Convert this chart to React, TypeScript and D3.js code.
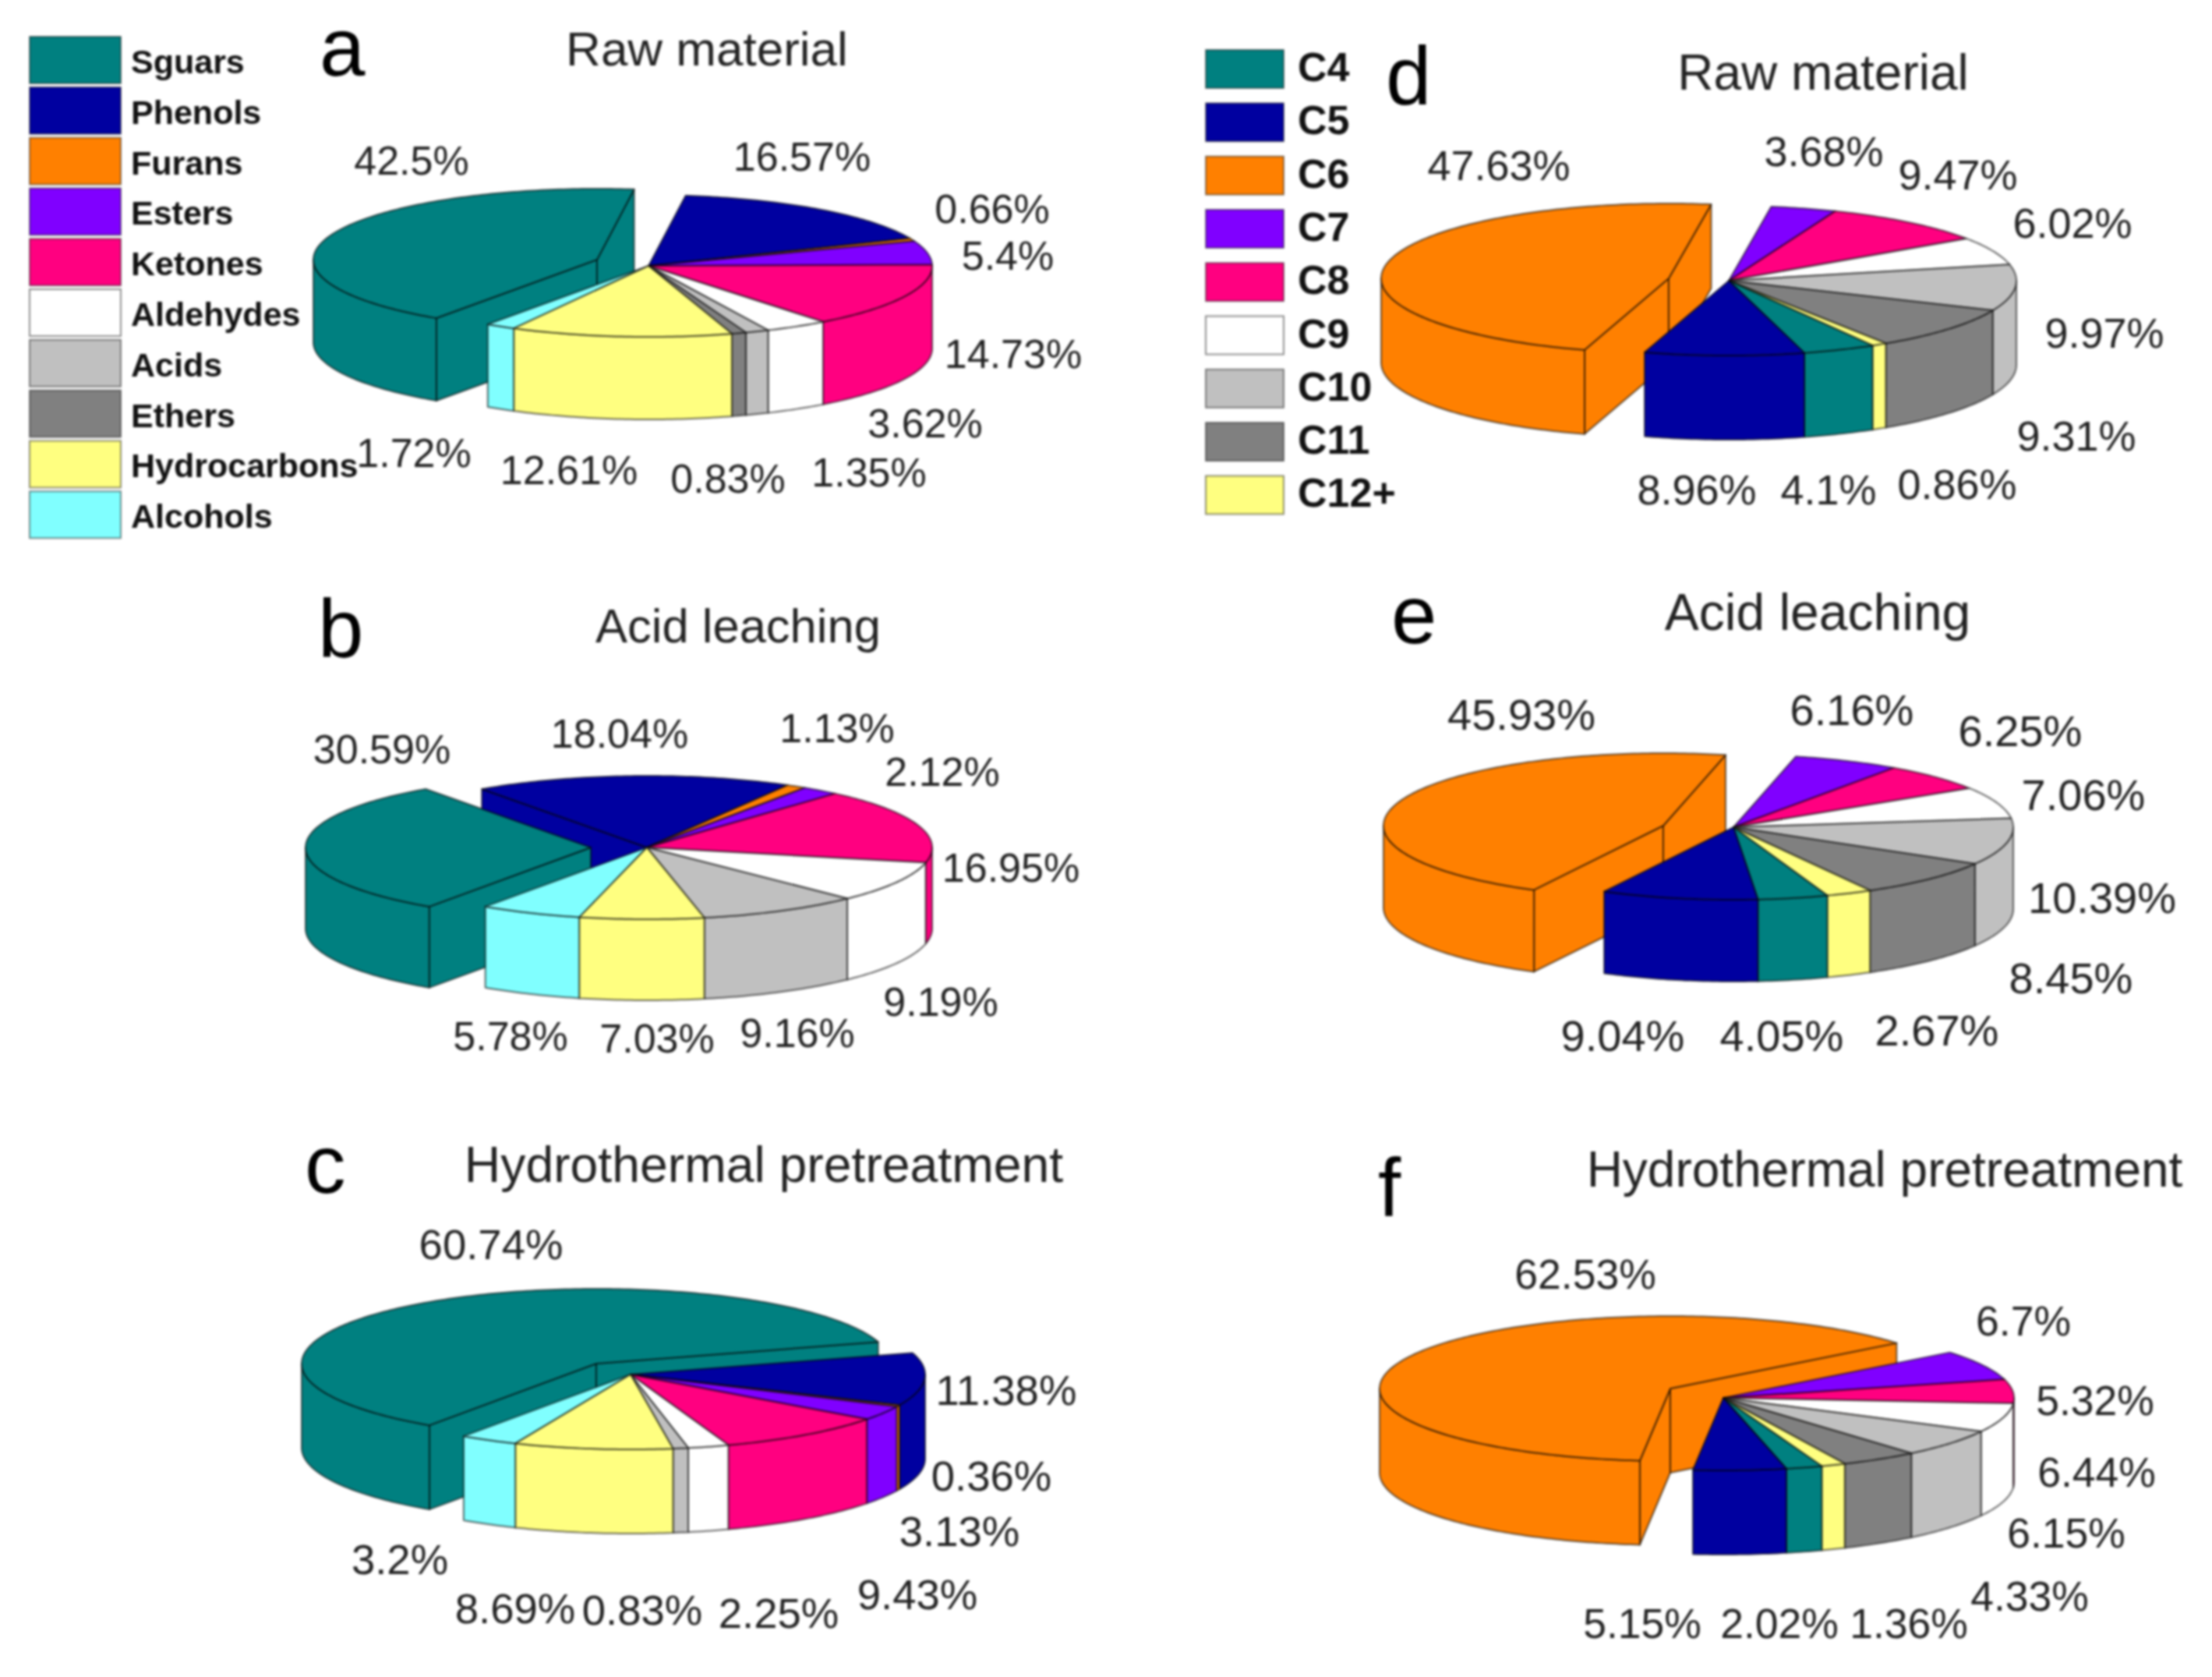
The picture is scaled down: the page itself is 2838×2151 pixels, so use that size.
import React, { useEffect, useRef } from 'react'
import * as d3 from 'd3'

const WIDTH = 2838
const HEIGHT = 2151
const FONT = '"Liberation Sans", Arial, sans-serif'

// legend categories
const compoundClasses = ['Sguars', 'Phenols', 'Furans', 'Esters', 'Ketones', 'Aldehydes', 'Acids', 'Ethers', 'Hydrocarbons', 'Alcohols']
const carbonClasses = ['C4', 'C5', 'C6', 'C7', 'C8', 'C9', 'C10', 'C11', 'C12+']
const compoundColors = ['#008080', '#0000A0', '#FF8000', '#8000FF', '#FF0080', '#FFFFFF', '#C0C0C0', '#808080', '#FFFF80', '#80FFFF']
const carbonColors = ['#008080', '#0000A0', '#FF8000', '#8000FF', '#FF0080', '#FFFFFF', '#C0C0C0', '#808080', '#FFFF80']

// percentages, in legend order
const rawCompounds = [42.5, 16.57, 0.66, 5.4, 14.73, 3.62, 1.35, 0.83, 12.61, 1.72]
const acidCompounds = [30.59, 18.04, 1.13, 2.12, 16.95, 9.19, 9.16, 0, 7.03, 5.78]
const hydroCompounds = [60.74, 11.38, 0.36, 3.13, 9.43, 2.25, 0.83, 0, 8.69, 3.2]
const rawCarbons = [4.1, 8.96, 47.63, 3.68, 9.47, 6.02, 9.97, 9.31, 0.86]
const acidCarbons = [4.05, 9.04, 45.93, 6.16, 6.25, 7.06, 10.39, 8.45, 2.67]
const hydroCarbons = [2.02, 5.15, 62.53, 6.7, 5.32, 6.44, 6.15, 4.33, 1.36]

// where each percentage label sits (centre x, baseline y), legend order
const rawCompoundLabels = [[528, 224], [1029, 219], [1273, 286], [1293, 346], [1300, 472], [1187, 561], [1115, 624], [934, 632], [730, 621], [531, 599]]
const acidCompoundLabels = [[490, 979], [795, 959], [1074, 952], [1209, 1008], [1297, 1131], [1207, 1303], [1023, 1343], [0, 0], [843, 1350], [655, 1347]]
const hydroCompoundLabels = [[630, 1615], [1291, 1802], [1272, 1912], [1231, 1983], [1177, 2064], [999, 2088], [824, 2084], [0, 0], [661, 2082], [513, 2019]]
const rawCarbonLabels = [[2346, 647], [2177, 647], [1923, 231], [2340, 213], [2512, 243], [2659, 305], [2700, 446], [2664, 578], [2511, 640]]
const acidCarbonLabels = [[2286, 1348], [2082, 1348], [1952, 936], [2376, 930], [2592, 957], [2673, 1039], [2697, 1171], [2657, 1274], [2485, 1341]]
const hydroCarbonLabels = [[2283, 2101], [2107, 2101], [2034, 1653], [2596, 1713], [2688, 1815], [2690, 1907], [2651, 1985], [2604, 2066], [2449, 2101]]

const panels = [
    { letter: 'a', lx: 410, ly: 97, title: 'Raw material', tx: 907, ty: 84, titleSize: 62, labelSize: 52, values: rawCompounds, labels: rawCompoundLabels, colors: compoundColors, cx: 832, cy: 341, rx: 364, ry: 91, depth: 106, start: 214.5, exploded: 0, ox: -66, oy: -8 },
    { letter: 'b', lx: 408, ly: 843, title: 'Acid leaching', tx: 947, ty: 824, titleSize: 61.5, labelSize: 52, values: acidCompounds, labels: acidCompoundLabels, colors: compoundColors, cx: 830, cy: 1087, rx: 366, ry: 92, depth: 104, start: 214.5, exploded: 0, ox: -72, oy: 0 },
    { letter: 'c', lx: 391, ly: 1530, title: 'Hydrothermal pretreatment', tx: 980, ty: 1516, titleSize: 64.3, labelSize: 54.5, values: hydroCompounds, labels: hydroCompoundLabels, colors: compoundColors, cx: 809, cy: 1763, rx: 378, ry: 96, depth: 108, start: 214.5, exploded: 0, ox: -44, oy: -14 },
    { letter: 'd', lx: 1778, ly: 134, title: 'Raw material', tx: 2339, ty: 115, titleSize: 64, labelSize: 54, values: rawCarbons, labels: rawCarbonLabels, colors: carbonColors, cx: 2218, cy: 360, rx: 369, ry: 96, depth: 108, start: 150, exploded: 2, ox: -77, oy: -3 },
    { letter: 'e', lx: 1785, ly: 825, title: 'Acid leaching', tx: 2332, ty: 808, titleSize: 66, labelSize: 56, values: acidCarbons, labels: acidCarbonLabels, colors: carbonColors, cx: 2224, cy: 1061, rx: 359, ry: 93, depth: 105, start: 160.4, exploded: 2, ox: -90, oy: -2 },
    { letter: 'f', lx: 1768, ly: 1560, title: 'Hydrothermal pretreatment', tx: 2418, ty: 1522, titleSize: 64, labelSize: 53.5, values: hydroCarbons, labels: hydroCarbonLabels, colors: carbonColors, cx: 2211, cy: 1793, rx: 373, ry: 93, depth: 108, start: 160.2, exploded: 2, ox: -68, oy: -12 },
]

const legends = [
    { names: compoundClasses, colors: compoundColors, x: 38, w: 117, y: 47, h: 60, step: 64.8, textX: 168, baseline: 94, fontSize: 43 },
    { names: carbonClasses, colors: carbonColors, x: 1547, w: 100, y: 64, h: 49, step: 68.3, textX: 1665, baseline: 104, fontSize: 52 },
]

const line = d3.line()

// one pie, sliced by d3.pie and projected on to a flattened ellipse
function drawPie(svg: any, p: (typeof panels)[number]) {
    const startAngle = (p.start * Math.PI) / 180
    const arcs = d3
        .pie<number>()
        .sort(null)
        .startAngle(startAngle)
        .endAngle(startAngle + 2 * Math.PI)(p.values)
        .filter((d) => d.value > 0)

    const rim = (a: number, drop = 0): [number, number] => [p.rx * Math.sin(a), -p.ry * Math.cos(a) + drop]
    const arcPoints = (a0: number, a1: number, drop = 0) => {
        const n = Math.max(2, Math.ceil(Math.abs(a1 - a0) * 60))
        return d3.range(n + 1).map((i) => rim(a0 + ((a1 - a0) * i) / n, drop))
    }

    const isExploded = (d: (typeof arcs)[number]) => d.index === p.exploded
    const offset = (d: (typeof arcs)[number]) => (isExploded(d) ? [p.ox, p.oy] : [0, 0])

    // painter's order: far slices first
    const order = arcs
        .map((d, i) => ({ d, i }))
        .sort((a, b) => {
            const key = (o: { d: (typeof arcs)[number] }) =>
                offset(o.d)[1] - 0.6 * p.ry * Math.cos((o.d.startAngle + o.d.endAngle) / 2)
            return key(a) - key(b)
        })

    order.forEach(({ d, i }) => {
        const [dx, dy] = offset(d)
        const g = svg.append('g').attr('transform', `translate(${p.cx + dx},${p.cy + dy})`)
        const prev = arcs[(i - 1 + arcs.length) % arcs.length]
        const next = arcs[(i + 1) % arcs.length]
        const face = (points: [number, number][]) =>
            g
                .append('path')
                .attr('d', line(points) + 'Z')
                .attr('fill', p.colors[d.index])
                .attr('stroke', '#000')
                .attr('stroke-opacity', 0.6)
                .attr('stroke-width', 2)
                .attr('stroke-linejoin', 'round')

        // cut faces, only where a neighbour has moved away
        if ((isExploded(d) || isExploded(prev)) && Math.sin(d.startAngle) < 0) {
            const [x, y] = rim(d.startAngle)
            face([[0, 0], [x, y], [x, y + p.depth], [0, p.depth]])
        }
        if ((isExploded(d) || isExploded(next)) && Math.sin(d.endAngle) > 0) {
            const [x, y] = rim(d.endAngle)
            face([[0, 0], [x, y], [x, y + p.depth], [0, p.depth]])
        }

        // outer wall, front half of the rim only
        ;[-1, 0, 1].forEach((k) => {
            const lo = Math.max(d.startAngle, Math.PI / 2 + 2 * Math.PI * k)
            const hi = Math.min(d.endAngle, (3 * Math.PI) / 2 + 2 * Math.PI * k)
            if (hi > lo) face([...arcPoints(lo, hi), ...arcPoints(hi, lo, p.depth)])
        })

        face([[0, 0], ...arcPoints(d.startAngle, d.endAngle)])
    })

    p.values.forEach((v, i) => {
        if (v <= 0) return
        svg.append('text')
            .attr('x', p.labels[i][0])
            .attr('y', p.labels[i][1])
            .attr('text-anchor', 'middle')
            .attr('font-size', p.labelSize)
            .attr('fill', '#222')
            .text(`${v}%`)
    })

    svg.append('text').attr('x', p.tx).attr('y', p.ty).attr('text-anchor', 'middle').attr('font-size', p.titleSize).attr('fill', '#222').text(p.title)
    svg.append('text').attr('x', p.lx).attr('y', p.ly).attr('font-size', 105).attr('fill', '#000').text(p.letter)
}

export default function App() {
    const svgRef = useRef<SVGSVGElement>(null)

    useEffect(() => {
        if (!svgRef.current) return
        const svg = d3.select(svgRef.current)
        svg.selectAll('*').remove()

        legends.forEach((l) => {
            const y = d3.scaleLinear().domain([0, 1]).range([0, l.step])
            l.names.forEach((name, i) => {
                svg.append('rect')
                    .attr('x', l.x)
                    .attr('y', l.y + y(i))
                    .attr('width', l.w)
                    .attr('height', l.h)
                    .attr('fill', l.colors[i])
                    .attr('stroke', '#000')
                    .attr('stroke-opacity', 0.45)
                    .attr('stroke-width', 2)
                svg.append('text')
                    .attr('x', l.textX)
                    .attr('y', l.baseline + y(i))
                    .attr('font-size', l.fontSize)
                    .attr('font-weight', 700)
                    .attr('fill', '#111')
                    .text(name)
            })
        })

        panels.forEach((p) => drawPie(svg, p))
    }, [])

    return (
        <svg
            ref={svgRef}
            width={WIDTH}
            height={HEIGHT}
            viewBox={`0 0 ${WIDTH} ${HEIGHT}`}
            fontFamily={FONT}
            style={{ position: 'absolute', left: 0, top: 0, background: '#fff', filter: 'blur(1.4px)' }}
        />
    )
}
